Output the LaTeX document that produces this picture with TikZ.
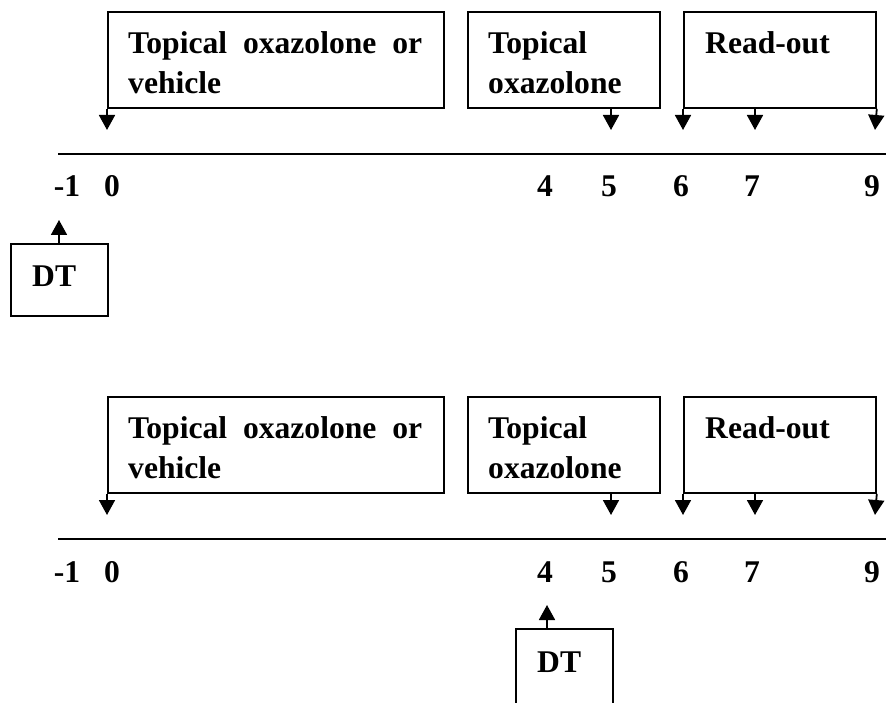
\documentclass[tikz,border=0pt]{standalone}
\usepackage{fontspec}
\setmainfont{Liberation Serif}
\usetikzlibrary{arrows.meta,positioning,calc}
\tikzset{
  stepbox/.style={draw,line width=1.8pt,anchor=north west,inner sep=0pt},
  boxtxt/.style={anchor=base west,inner sep=0pt,
                 font=\fontsize{31.6}{40}\selectfont\bfseries},
  daylbl/.style={anchor=base,inner sep=0pt,
                 font=\fontsize{31.6}{40}\selectfont\bfseries},
  tick/.style={-{Triangle[length=15pt,width=16pt]},line width=1.8pt},
  axis/.style={line width=1.8pt},
}

\begin{document}
\begin{tikzpicture}[x=1pt,y=1pt]
  \useasboundingbox (0,0) rectangle (886,702);
  \clip (0,0) rectangle (886,702);
  % one panel per DT schedule: name/shift/DT box x/DT arrow x/DT box height
  \foreach \p/\yy/\dtx/\dta/\dth in {a/0/10/59/72,b/-385/515/547/90}{
    \begin{scope}[yshift=\yy]
      \node[stepbox,minimum width=336pt,minimum height=96pt] (ox\p) at (107,691) {};
      \node[stepbox,minimum width=192pt,minimum height=96pt] (ch\p) at (467,691) {};
      \node[stepbox,minimum width=192pt,minimum height=96pt] (ro\p) at (683,691) {};
      \node[boxtxt,text width=294pt,align=justify] (oxt\p) at ($(ox\p.north west)+(21,-43)$)
        {Topical oxazolone or vehicle};
      \node[boxtxt,text width=160pt,align=left] (cht\p) at ($(ch\p.north west)+(21,-43)$)
        {Topical\\oxazolone};
      \node[boxtxt] (rot\p) at ($(ro\p.north west)+(22,-43)$) {Read-out};
      % time axis
      \coordinate (l\p) at (58,548);
      \coordinate (r\p) at (886,548);
      \draw[axis] (l\p) -- (r\p);
      \foreach \d/\x in {-1/67,0/112,4/545,5/609,6/681,7/752,9/872}
        {\node[daylbl] (day\p\x) at (\x,505) {\d};}
      % arrows onto the axis
      \foreach \x in {107,611,683,755,875}
        {\coordinate (tip\p\x) at (\x,572);}
      \draw[tick] (ox\p.south west) -- (tip\p107);
      \draw[tick] (tip\p611 |- ch\p.south) -- (tip\p611);
      \draw[tick] (ro\p.south west) -- (tip\p683);
      \draw[tick] (tip\p755 |- ro\p.south) -- (tip\p755);
      \draw[tick] (ro\p.south east) -- (tip\p875);
      % DT injection
      \node[stepbox,minimum width=97pt,minimum height=\dth pt] (dt\p) at (\dtx,459) {};
      \node[boxtxt] (dtt\p) at ($(dt\p.north west)+(22,-44)$) {DT};
      \coordinate (dtip\p) at (\dta,482);
      \draw[tick] (dtip\p |- dt\p.north) -- (dtip\p);
    \end{scope}
  }
\end{tikzpicture}
\end{document}
